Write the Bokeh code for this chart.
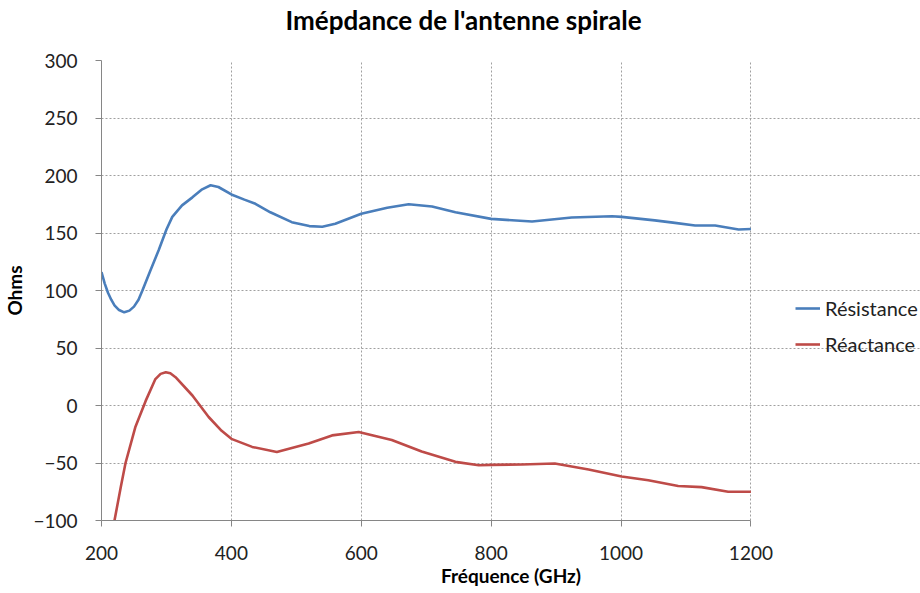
from bokeh.plotting import figure
from bokeh.models import Legend, LegendItem, FixedTicker, Range1d
from bokeh.embed import file_html
from bokeh.resources import INLINE

# Data
res_freq = [200, 205, 210, 215, 220, 227, 235, 243, 250, 257, 263, 275, 288, 300, 309, 324, 340, 355, 368, 380,
            400, 420, 437, 460, 493, 520, 540, 560, 600, 640, 673, 709, 745, 800, 863,
            924, 986, 1001, 1052, 1080, 1114, 1145, 1181, 1200]
res_vals = [116, 106, 98, 92, 87, 83, 81, 82.5, 86, 92, 100, 117, 135, 153, 164, 174, 181, 188, 191.5, 190,
            183.5, 179, 175.4, 168, 159.4, 156, 155.5, 158, 166.7, 172, 175, 173, 168, 162.3, 160,
            163.5, 164.5, 164, 161, 159, 156.5, 156.5, 153, 153.5]

rea_freq = [220, 230, 237, 252, 268, 283, 291, 299, 306, 314, 340, 365, 385, 400, 432, 470, 519,
            555, 596, 647, 693, 745, 781, 800, 847, 898, 950, 1001, 1042, 1088, 1124, 1165, 1200]
rea_vals = [-100, -70, -50, -19, 4, 23, 27.5, 29, 28, 24.6, 8.7, -10, -22, -29, -36, -40.5, -33,
            -26, -23, -30, -40, -49, -52, -51.6, -51.3, -50.4, -55.7, -61.7, -65, -70, -71, -75, -75]

x_ticks = [200, 400, 600, 800, 1000, 1200]
y_ticks = [-100, -50, 0, 50, 100, 150, 200, 250, 300]
x_min, x_max = 200, 1200
y_min, y_max = -100, 300

FONT = "Lato"
W, H = 920, 593
LEFT, PLOT_R = 99, 750            # pixel positions of the data area
# extend the frame to the right so the legend sits inside it
x_end = x_max + (W - PLOT_R) * (x_max - x_min) / (PLOT_R - LEFT)

p = figure(width=W, height=H, output_backend="svg", toolbar_location=None,
           x_range=Range1d(x_min, x_end), y_range=Range1d(y_min, y_max),
           min_border_left=LEFT, min_border_right=0, min_border_top=60, min_border_bottom=73,
           title="Imépdance de l'antenne spirale")
p.outline_line_color = None

p.title.text_font = FONT
p.title.text_font_size = "26px"
p.title.text_font_style = "bold"
p.title.text_color = "#000000"
p.title.align = "left"
p.title.offset = 184
p.title.standoff = 2
p.title.padding = dict(left=0, right=0, top=0, bottom=24)

r1 = p.line(res_freq, res_vals, line_color="#4a7ebb", line_width=2.6)
r2 = p.line(rea_freq, rea_vals, line_color="#be4b48", line_width=2.6)

for ax in (p.xaxis[0], p.yaxis[0]):
    ax.axis_line_color = "#868686"
    ax.major_tick_line_color = "#868686"
    ax.minor_tick_line_color = None
    ax.major_tick_in = 0
    ax.major_tick_out = 6
    ax.major_label_text_font = FONT
    ax.major_label_text_font_size = "19px"
    ax.major_label_text_color = "#222222"
    ax.axis_label_text_font = FONT
    ax.axis_label_text_font_style = "bold"
    ax.axis_label_text_font_size = "19px"
    ax.axis_label_text_color = "#000000"

p.xaxis.ticker = FixedTicker(ticks=x_ticks)
p.yaxis.ticker = FixedTicker(ticks=y_ticks)
p.xaxis.bounds = (x_min, x_max)
p.xaxis.axis_label = "Fréquence (GHz)"
p.yaxis.axis_label = "Ohms"
p.xaxis.major_label_standoff = 19
p.yaxis.major_label_standoff = 18
p.xaxis.axis_label_standoff = 1
p.yaxis.axis_label_standoff = 4

p.xgrid.grid_line_color = "#a0a0a0"
p.ygrid.grid_line_color = "#a0a0a0"
p.xgrid.grid_line_dash = "2 2"
p.ygrid.grid_line_dash = "2 2"
p.ygrid.bounds = (x_min, x_max)

legend = Legend(items=[LegendItem(label="Résistance", renderers=[r1]),
                       LegendItem(label="Réactance", renderers=[r2])],
                location=(694, 164))
legend.glyph_width = 25
legend.glyph_height = 20
legend.label_height = 20
legend.label_standoff = 5
legend.spacing = 12
legend.padding = 0
legend.margin = 0
legend.border_line_alpha = 0
legend.background_fill_alpha = 0
legend.label_text_font = FONT
legend.label_text_font_size = "20px"
legend.label_text_color = "#222222"
p.add_layout(legend)

open("out.html", "w").write(file_html(p, INLINE))
